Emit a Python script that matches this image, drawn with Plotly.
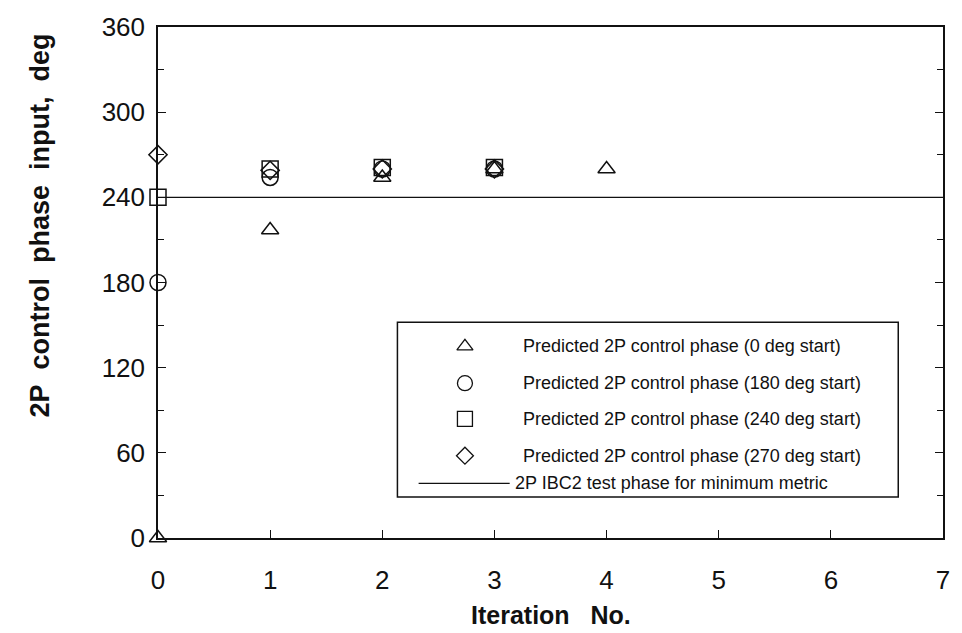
import plotly.graph_objects as go

# Predicted 2P control phase per iteration, for each starting phase
iterations_0 = [0, 1, 2, 3, 4]
phase_0 = [0, 217, 254, 260, 260]

iterations_180 = [0, 1, 2, 3]
phase_180 = [180, 254, 260, 260]

iterations_240 = [0, 1, 2, 3]
phase_240 = [240, 260, 261, 261]

iterations_270 = [0, 1, 2, 3]
phase_270 = [270, 259, 260, 260]

# 2P IBC2 test phase for minimum metric (horizontal reference)
test_phase_x = [0, 7]
test_phase = [240, 240]

y_ticks = [0, 60, 120, 180, 240, 300, 360]
x_ticks = [0, 1, 2, 3, 4, 5, 6, 7]

legend_labels = [
    "Predicted 2P control phase (0 deg start)",
    "Predicted 2P control phase (180 deg start)",
    "Predicted 2P control phase (240 deg start)",
    "Predicted 2P control phase (270 deg start)",
    "2P IBC2 test phase for minimum metric",
]

FONT = "Liberation Sans, Arial, Helvetica, sans-serif"
INK = "#111111"
SP = "\u00a0"

series = [
    (iterations_0, phase_0, "triangle-up-open", 15),
    (iterations_180, phase_180, "circle-open", 16),
    (iterations_240, phase_240, "square-open", 16),
    (iterations_270, phase_270, "diamond-open", 14),
]

fig = go.Figure()

fig.add_trace(go.Scatter(
    x=test_phase_x, y=test_phase, mode="lines",
    line=dict(color=INK, width=1.2), showlegend=False, cliponaxis=False,
))

for xs, ys, sym, size in series:
    fig.add_trace(go.Scatter(
        x=xs, y=ys, mode="markers", showlegend=False, cliponaxis=False,
        marker=dict(symbol=sym, size=size, color=INK,
                    line=dict(color=INK, width=1.5)),
    ))

# Legend box drawn on an overlay axis pair spanning the plot area (0..1)
leg_left, leg_right, leg_bottom, leg_top = 0.305, 0.943, 0.080, 0.422
leg_sym_x = 0.391
leg_text_x = 0.462
leg_rows = [0.375, 0.303, 0.233, 0.161, 0.107]

for (xs, ys, sym, size), row in zip(series, leg_rows[:4]):
    fig.add_trace(go.Scatter(
        x=[leg_sym_x], y=[row], xaxis="x2", yaxis="y2", mode="markers",
        showlegend=False, cliponaxis=False, hoverinfo="skip",
        marker=dict(symbol=sym, size=size - 1, color=INK,
                    line=dict(color=INK, width=1.3)),
    ))
fig.add_trace(go.Scatter(
    x=[0.332, 0.448], y=[leg_rows[4], leg_rows[4]], xaxis="x2", yaxis="y2",
    mode="lines", line=dict(color=INK, width=1.2), showlegend=False,
    hoverinfo="skip",
))

fig.add_shape(type="rect", xref="paper", yref="paper",
              x0=leg_left, x1=leg_right, y0=leg_bottom, y1=leg_top,
              line=dict(color=INK, width=1.5), fillcolor="rgba(0,0,0,0)")

for label, row in zip(legend_labels, leg_rows):
    fig.add_annotation(
        x=leg_text_x if label != legend_labels[-1] else 0.452, y=row,
        xref="paper", yref="paper", xanchor="left", yanchor="middle",
        text=label, showarrow=False,
        font=dict(family=FONT, size=18, color=INK),
    )

# Axis titles
fig.add_annotation(
    x=-0.150, y=0.612, xref="paper", yref="paper", textangle=-90,
    text="<b>" + (SP * 2).join(["2P", "control", "phase", "input,", "deg"]) + "</b>",
    showarrow=False, xanchor="center", yanchor="middle",
    font=dict(family=FONT, size=27, color=INK),
)
fig.add_annotation(
    x=0.5, y=-0.150, xref="paper", yref="paper",
    text="<b>Iteration" + SP * 3 + "No.</b>",
    showarrow=False, xanchor="center", yanchor="middle",
    font=dict(family=FONT, size=25, color=INK),
)

fig.update_layout(
    width=962, height=633,
    margin=dict(l=158, r=14, t=23, b=95),
    paper_bgcolor="white", plot_bgcolor="white",
    font=dict(family=FONT, color=INK),
    showlegend=False,
    xaxis=dict(
        range=[0, 7], tickvals=x_ticks, ticks="inside", ticklen=8,
        tickwidth=1.2, tickcolor=INK, showline=True, linecolor=INK,
        linewidth=1.5, mirror=True, showgrid=False, zeroline=False,
        tickfont=dict(family=FONT, size=26, color=INK),
        ticklabelstandoff=18,
    ),
    yaxis=dict(
        range=[0, 360], tickvals=y_ticks, ticks="inside", ticklen=8,
        tickwidth=1.2, tickcolor=INK, showline=True, linecolor=INK,
        linewidth=1.5, mirror="ticks", showgrid=False, zeroline=False,
        tickfont=dict(family=FONT, size=26, color=INK),
        ticklabelstandoff=6,
        minor=dict(dtick=30, ticks="inside", ticklen=6, tickcolor=INK,
                   tickwidth=1, showgrid=False),
    ),
    xaxis2=dict(range=[0, 1], domain=[0, 1], overlaying="x", visible=False,
                fixedrange=True),
    yaxis2=dict(range=[0, 1], domain=[0, 1], overlaying="y", visible=False,
                fixedrange=True, anchor="x2"),
)

fig.write_html("out.html")
